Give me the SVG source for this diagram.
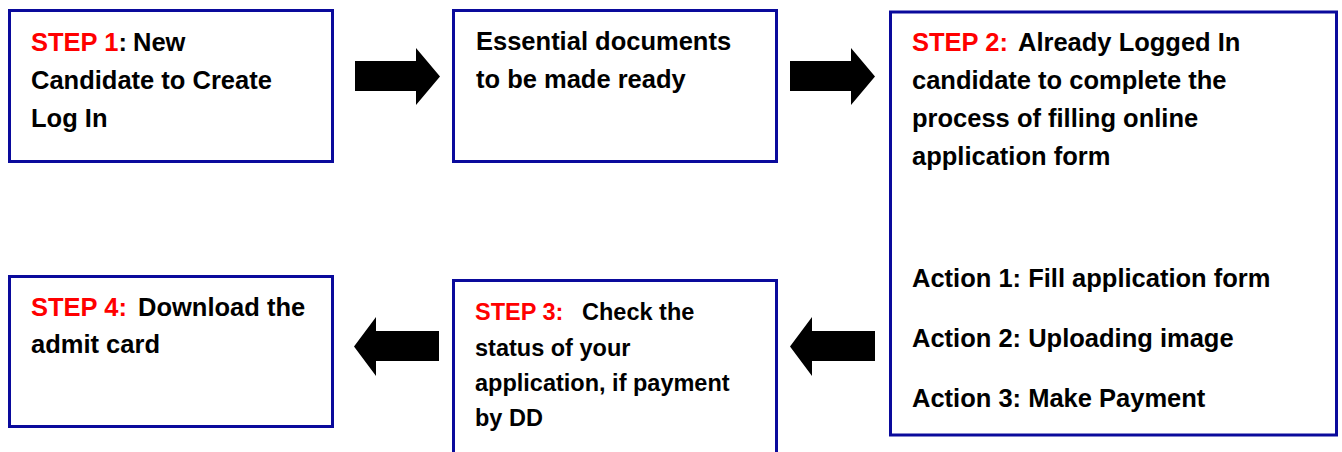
<svg xmlns="http://www.w3.org/2000/svg" width="1342" height="452" viewBox="0 0 1342 452">
<style>
.box{fill:#fff;stroke:#0a0a9c;stroke-width:3}
.t{font-family:"Liberation Sans",Arial,sans-serif;font-weight:bold;font-size:25.5px;fill:#000}
.s{font-size:23.5px}
.red{fill:#ff0000}
.arr{fill:#000}
</style>
<rect width="1342" height="452" fill="#fff"/>
<g id="connectors">
<polygon class="arr" points="355,61 416,61 416,48 440,76.5 416,105 416,91 355,91"/>
<polygon class="arr" points="790,61 851,61 851,48 875,76.5 851,105 851,91 790,91"/>
<polygon class="arr" points="439,331 376,331 376,317 354,346.5 376,376 376,361 439,361"/>
<polygon class="arr" points="875,331 812,331 812,317 790,346.5 812,376 812,361 875,361"/>
</g>
<g id="step1">
<rect class="box" x="9.5" y="10.5" width="323" height="151"/>
<text class="t" x="31" y="51"><tspan class="red">STEP 1</tspan>:<tspan x="133">New</tspan></text>
<text class="t" x="31" y="89">Candidate to Create</text>
<text class="t" x="31" y="127">Log In</text>
</g>
<g id="documents">
<rect class="box" x="453.5" y="10.5" width="323" height="151"/>
<text class="t" x="476" y="50">Essential documents</text>
<text class="t" x="476" y="88">to be made ready</text>
</g>
<g id="step2">
<rect class="box" x="890.5" y="12" width="446" height="423"/>
<text class="t" x="912" y="51"><tspan class="red">STEP 2:</tspan><tspan x="1018">Already Logged In</tspan></text>
<text class="t" x="912" y="89">candidate to complete the</text>
<text class="t" x="912" y="127">process of filling online</text>
<text class="t" x="912" y="165">application form</text>
<text class="t" x="912" y="287">Action 1: Fill application form</text>
<text class="t" x="912" y="347">Action 2: Uploading image</text>
<text class="t" x="912" y="407">Action 3: Make Payment</text>
</g>
<g id="step3">
<rect class="box" x="453.5" y="280.5" width="323" height="200"/>
<text class="t s" x="475" y="320"><tspan class="red">STEP 3:</tspan><tspan x="582">Check the</tspan></text>
<text class="t s" x="475" y="356">status of your</text>
<text class="t s" x="475" y="391">application, if payment</text>
<text class="t s" x="475" y="426">by DD</text>
</g>
<g id="step4">
<rect class="box" x="9.5" y="276.5" width="323" height="150"/>
<text class="t" x="31" y="316"><tspan class="red">STEP 4:</tspan><tspan x="138">Download the</tspan></text>
<text class="t" x="31" y="353">admit card</text>
</g>
</svg>
